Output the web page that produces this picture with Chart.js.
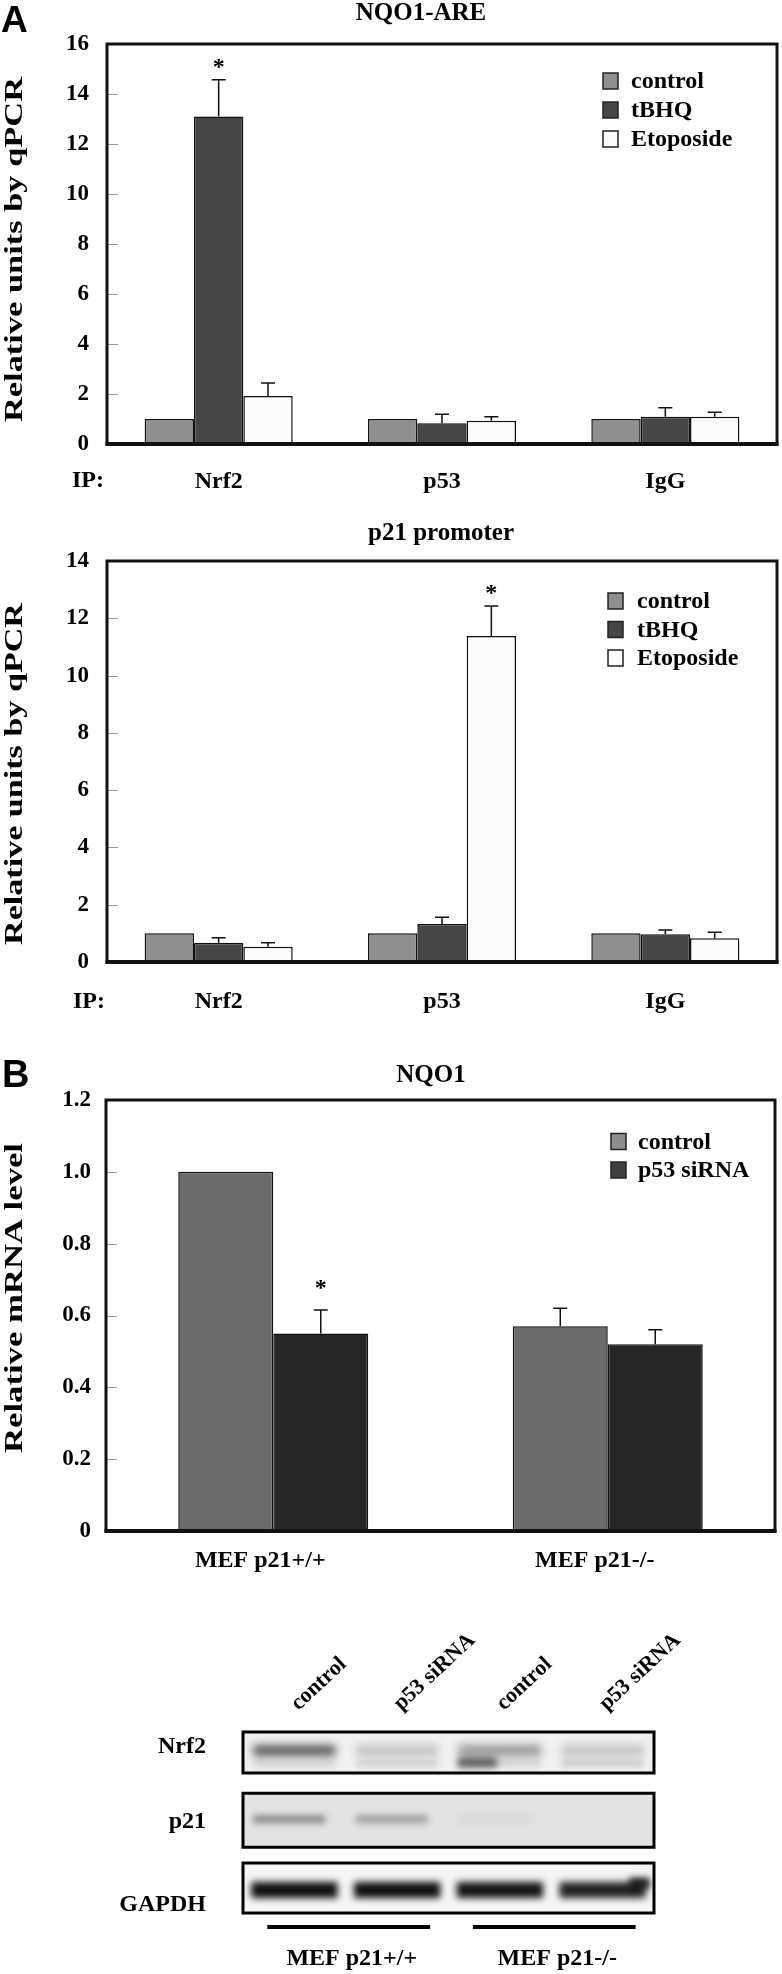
<!DOCTYPE html>
<html>
<head>
<meta charset="utf-8">
<title>NQO1 / p21 ChIP and mRNA</title>
<script src="https://cdn.jsdelivr.net/npm/chart.js@4.4.1/dist/chart.umd.min.js"></script>
<style>
  html, body { margin: 0; padding: 0; background: #fff; }
  #page { position: relative; width: 782px; height: 1974px; overflow: hidden; background: #fff; }
  #page canvas { position: absolute; left: 0; }
</style>
</head>
<body>
<div id="page">
  <canvas id="chartAre" width="782" height="510" style="top:0px"></canvas>
  <canvas id="chartP21" width="782" height="520" style="top:510px"></canvas>
  <canvas id="chartNqo1" width="782" height="560" style="top:1030px"></canvas>
  <canvas id="blot" width="782" height="384" style="top:1590px"></canvas>
</div>
<script>
// ---- data ----

// A, upper: NQO1-ARE
const ipLabels = ['Nrf2', 'p53', 'IgG'];
const treatmentLabels = ['control', 'tBHQ', 'Etoposide'];
const areControl = [1.0, 1.0, 1.0];
const areTbhq = [13.1, 0.83, 1.09];
const areEtoposide = [1.92, 0.93, 1.09];
const areTbhqErr = [1.47, 0.36, 0.36];
const areEtoposideErr = [0.52, 0.16, 0.18];
const areYTicks = [0, 2, 4, 6, 8, 10, 12, 14, 16];

// A, lower: p21 promoter
const p21Control = [1.0, 1.0, 1.0];
const p21Tbhq = [0.67, 1.33, 0.97];
const p21Etoposide = [0.53, 11.38, 0.83];
const p21TbhqErr = [0.18, 0.23, 0.15];
const p21EtoposideErr = [0.14, 1.05, 0.21];
const p21YTicks = [0, 2, 4, 6, 8, 10, 12, 14];

// B: NQO1 mRNA
const cellLabels = ['MEF p21+/+', 'MEF p21-/-'];
const sirnaLabels = ['control', 'p53 siRNA'];
const nqo1Control = [1.0, 0.57];
const nqo1Sirna = [0.55, 0.52];
const nqo1ControlErr = [0, 0.05];
const nqo1SirnaErr = [0.065, 0.04];
const nqo1YTicks = [0, 0.2, 0.4, 0.6, 0.8, 1.0, 1.2];

// B: western blot (band intensity 0..1)
const blotLanes = ['control', 'p53 siRNA', 'control', 'p53 siRNA'];
const blotRows = ['Nrf2', 'p21', 'GAPDH'];
const blotGroups = ['MEF p21+/+', 'MEF p21-/-'];
const nrf2Upper = [0.66, 0.2, 0.4, 0.2];
const nrf2Lower = [0.12, 0.14, 0.12, 0.17];
const nrf2LowerLeft = [0, 0, 0.62, 0];
const p21Band = [0.42, 0.32, 0.05, 0];
const gapdhBand = [1.0, 1.0, 0.98, 0.92];
const gapdhEdge = [0, 0, 0, 0.85];

// ---- drawing ----
const serif = '"Liberation Serif", "Times New Roman", serif';
const sans = '"Liberation Sans", Arial, sans-serif';
Chart.defaults.font.family = serif;
Chart.defaults.font.weight = 'bold';
Chart.defaults.color = '#000';

// per-canvas decoration settings (kept outside Chart options on purpose)
const figureConfigs = {};

function drawText(ctx, t) {
  ctx.save();
  ctx.font = t.font || ('bold 24px ' + serif);
  ctx.fillStyle = '#000';
  if (t.span) {
    // rotated axis title, stretched along its length like the original
    ctx.translate(t.x, t.y);
    ctx.rotate(-Math.PI / 2);
    const w = ctx.measureText(t.text).width;
    ctx.scale(t.span / w, 1);
    ctx.textAlign = 'center';
    ctx.textBaseline = 'middle';
    ctx.fillText(t.text, 0, 0);
  } else {
    ctx.textAlign = t.align || 'left';
    ctx.textBaseline = t.baseline || 'alphabetic';
    ctx.fillText(t.text, t.x, t.y);
  }
  ctx.restore();
}

// error bars, asterisks, frame, inner ticks, legend and labels
const figurePlugin = {
  id: 'figure',
  afterDatasetsDraw(chart) {
    const opts = figureConfigs[chart.canvas.id];
    const ctx = chart.ctx;
    const y = chart.scales.y;
    ctx.save();
    ctx.strokeStyle = '#111';
    ctx.lineWidth = 1.5;
    chart.data.datasets.forEach((ds, i) => {
      if (!ds.errors) return;
      chart.getDatasetMeta(i).data.forEach((bar, j) => {
        const e = ds.errors[j];
        if (!e) return;
        const top = y.getPixelForValue(ds.data[j] + e);
        ctx.beginPath();
        ctx.moveTo(bar.x, bar.y);
        ctx.lineTo(bar.x, top);
        ctx.moveTo(bar.x - 7, top);
        ctx.lineTo(bar.x + 7, top);
        ctx.stroke();
      });
    });
    ctx.restore();
    opts.stars.forEach(s => {
      const ds = chart.data.datasets[s.dataset];
      const bar = chart.getDatasetMeta(s.dataset).data[s.index];
      const err = ds.errors ? ds.errors[s.index] : 0;
      const top = y.getPixelForValue(ds.data[s.index] + err);
      drawText(ctx, { text: '*', x: bar.x, y: top - opts.starGap + 11.6, align: 'center' });
    });
  },
  afterDraw(chart) {
    const opts = figureConfigs[chart.canvas.id];
    const ctx = chart.ctx;
    const a = chart.chartArea;
    const y = chart.scales.y;
    ctx.save();
    // small tick marks inside the frame
    ctx.strokeStyle = '#9a9a9a';
    ctx.lineWidth = 1;
    y.ticks.forEach((t, k) => {
      if (k === 0 || k === y.ticks.length - 1) return;
      const py = Math.round(y.getPixelForValue(t.value)) + 0.5;
      ctx.beginPath();
      ctx.moveTo(a.left, py);
      ctx.lineTo(a.left + 11, py);
      ctx.stroke();
    });
    // frame
    ctx.strokeStyle = '#111';
    ctx.lineWidth = 3;
    ctx.strokeRect(a.left, a.top, a.right - a.left, a.bottom - a.top);
    ctx.lineWidth = 4;
    ctx.beginPath();
    ctx.moveTo(a.left - 1.5, a.bottom);
    ctx.lineTo(a.right + 1.5, a.bottom);
    ctx.stroke();
    // legend
    const lg = opts.legend;
    chart.data.datasets.forEach((ds, i) => {
      const cy = lg.y + i * lg.dy;
      ctx.fillStyle = ds.legendColor || ds.backgroundColor;
      ctx.fillRect(lg.x, cy - 8, 15, 16);
      ctx.strokeStyle = '#222';
      ctx.lineWidth = 1.5;
      ctx.strokeRect(lg.x, cy - 8, 15, 16);
      drawText(ctx, { text: ds.label, x: lg.x + lg.gap, y: cy + 1, baseline: 'middle' });
    });
    ctx.restore();
    opts.texts.forEach(t => drawText(ctx, t));
  }
};

function makeBarChart(id, o) {
  figureConfigs[id] = o.figure;
  return new Chart(document.getElementById(id), {
    type: 'bar',
    data: { labels: o.labels, datasets: o.datasets },
    options: {
      responsive: false,
      animation: false,
      events: [],
      layout: { padding: o.padding },
      datasets: {
        bar: {
          barPercentage: 1,
          categoryPercentage: o.catPct,
          borderWidth: 1.5,
          borderColor: '#111',
          borderSkipped: 'start'
        }
      },
      scales: {
        x: {
          grid: { display: false, drawTicks: false },
          border: { display: false },
          ticks: {
            font: { size: 24, weight: 'bold' },
            color: '#000',
            padding: o.xPad,
            labelOffset: o.labelOffset || 0,
            maxRotation: 0,
            autoSkip: false
          },
          afterFit: s => { s.height = o.xHeight; }
        },
        y: {
          min: 0,
          max: o.yTicks[o.yTicks.length - 1],
          grid: { display: false, drawTicks: false },
          border: { display: false },
          ticks: {
            font: { size: 23, weight: 'bold' },
            color: '#000',
            padding: o.yPad,
            callback: o.fmt
          },
          afterBuildTicks: s => { s.ticks = o.yTicks.map(v => ({ value: v })); },
          afterFit: s => { s.width = o.yWidth; }
        }
      },
      plugins: {
        legend: { display: false },
        tooltip: { enabled: false }
      }
    },
    plugins: [figurePlugin]
  });
}

const colControl = '#8f8f8f';
const colTbhq = '#464646';
const colEto = '#fbfbfb';

makeBarChart('chartAre', {
  labels: ipLabels,
  datasets: [
    { label: treatmentLabels[0], data: areControl, backgroundColor: colControl },
    { label: treatmentLabels[1], data: areTbhq, errors: areTbhqErr, backgroundColor: colTbhq },
    { label: treatmentLabels[2], data: areEtoposide, errors: areEtoposideErr, backgroundColor: colEto }
  ],
  padding: { top: 44, right: 5, left: 0, bottom: 0 },
  catPct: 0.663, yTicks: areYTicks, yWidth: 107, xHeight: 66, xPad: 23, yPad: 18,
  figure: {
    stars: [{ dataset: 1, index: 0 }], starGap: 17,
    legend: { x: 603, y: 81, dy: 29, gap: 28 },
    texts: [
      { text: 'A', x: 1, y: 32, font: 'bold 37px ' + sans },
      { text: 'NQO1-ARE', x: 421, y: 20, align: 'center', font: 'bold 25px ' + serif },
      { text: 'Relative units by qPCR', x: 16, y: 249.5, span: 345, font: 'bold 25px ' + serif },
      { text: 'IP:', x: 72, y: 481, baseline: 'middle' }
    ]
  }
});

makeBarChart('chartP21', {
  labels: ipLabels,
  datasets: [
    { label: treatmentLabels[0], data: p21Control, backgroundColor: colControl },
    { label: treatmentLabels[1], data: p21Tbhq, errors: p21TbhqErr, backgroundColor: colTbhq },
    { label: treatmentLabels[2], data: p21Etoposide, errors: p21EtoposideErr, backgroundColor: colEto }
  ],
  padding: { top: 51, right: 5, left: 0, bottom: 0 },
  catPct: 0.663, yTicks: p21YTicks, yWidth: 107, xHeight: 68, xPad: 25, yPad: 18,
  figure: {
    stars: [{ dataset: 2, index: 1 }], starGap: 18,
    legend: { x: 608, y: 91, dy: 28.5, gap: 29 },
    texts: [
      { text: 'p21 promoter', x: 441, y: 30, align: 'center', font: 'bold 25px ' + serif },
      { text: 'Relative units by qPCR', x: 15.5, y: 264, span: 342, font: 'bold 25px ' + serif },
      { text: 'IP:', x: 73, y: 492, baseline: 'middle' }
    ]
  }
});

makeBarChart('chartNqo1', {
  labels: cellLabels,
  datasets: [
    { label: sirnaLabels[0], data: nqo1Control, errors: nqo1ControlErr, backgroundColor: '#6b6b6b', legendColor: '#8e8e8e' },
    { label: sirnaLabels[1], data: nqo1Sirna, errors: nqo1SirnaErr, backgroundColor: '#262626', legendColor: '#404040' }
  ],
  padding: { top: 70, right: 7, left: 0, bottom: 0 },
  catPct: 0.568, yTicks: nqo1YTicks, yWidth: 106, xHeight: 59, xPad: 15, yPad: 15, labelOffset: -13,
  fmt: v => (v === 0 ? '0' : v.toFixed(1)),
  figure: {
    stars: [{ dataset: 1, index: 0 }], starGap: 27,
    legend: { x: 611, y: 111.5, dy: 28.5, gap: 27 },
    texts: [
      { text: 'B', x: 2, y: 57, font: 'bold 38px ' + sans },
      { text: 'NQO1', x: 431, y: 52, align: 'center', font: 'bold 25px ' + serif },
      { text: 'Relative mRNA level', x: 15.5, y: 268, span: 310, font: 'bold 25px ' + serif }
    ]
  }
});

// western blot: lanes on a category x scale, strips on a linear y scale
figureConfigs.blot = {
  stripHeights: [41, 54, 50],
  stripBg: ['#f1f1f1', '#e3e3e3', '#f5f5f5'],
  bands: [
    [
      { values: nrf2Upper, width: 0.8, dy: -2, th: 11, blur: 4 },
      { values: nrf2Lower, width: 0.8, dy: 11, th: 7, blur: 3 },
      { values: nrf2LowerLeft, width: 0.38, shift: -0.22, dy: 10, th: 10, blur: 3.5 }
    ],
    [
      { values: p21Band, width: 0.7, shift: -0.05, dy: -1, th: 8, blur: 3 }
    ],
    [
      { values: gapdhBand, width: 0.84, dy: 2, th: 16, blur: 3.5 },
      { values: gapdhEdge, width: 0.2, shift: 0.36, dy: -5, th: 11, blur: 3 }
    ]
  ],
  rowLabelX: 206,
  rowLabelY: [163, 238, 321],
  laneDx: 4,
  laneY: 121,
  groupLanes: [[0, 1], [2, 3]],
  groupLineY: 337,
  groupLabelY: 375
};

const blotPlugin = {
  id: 'blot',
  afterDraw(chart) {
    const opts = figureConfigs[chart.canvas.id];
    const ctx = chart.ctx;
    const a = chart.chartArea;
    const xs = chart.scales.x;
    const ys = chart.scales.y;
    const laneW = xs.getPixelForValue(1) - xs.getPixelForValue(0);

    blotRows.forEach((row, r) => {
      const cy = ys.getPixelForValue(r);
      const h = opts.stripHeights[r];
      const top = cy - h / 2;
      ctx.save();
      ctx.beginPath();
      ctx.rect(a.left, top, a.right - a.left, h);
      ctx.clip();
      ctx.fillStyle = opts.stripBg[r];
      ctx.fillRect(a.left, top, a.right - a.left, h);
      opts.bands[r].forEach(b => {
        b.values.forEach((v, l) => {
          if (v <= 0) return;
          const cx = xs.getPixelForValue(l) + (b.shift || 0) * laneW;
          const w = b.width * laneW;
          ctx.filter = 'blur(' + b.blur + 'px)';
          ctx.fillStyle = 'rgba(15,15,15,' + v + ')';
          ctx.fillRect(cx - w / 2, cy + b.dy - b.th / 2, w, b.th);
        });
      });
      ctx.filter = 'none';
      ctx.restore();
      ctx.save();
      ctx.strokeStyle = '#000';
      ctx.lineWidth = 3;
      ctx.strokeRect(a.left, top, a.right - a.left, h);
      ctx.restore();
      drawText(ctx, { text: row, x: opts.rowLabelX, y: opts.rowLabelY[r], align: 'right' });
    });

    // lane labels, rotated
    blotLanes.forEach((lab, l) => {
      ctx.save();
      ctx.translate(xs.getPixelForValue(l) + opts.laneDx, opts.laneY);
      ctx.rotate(-43 * Math.PI / 180);
      ctx.font = 'bold 22px ' + serif;
      ctx.fillStyle = '#000';
      ctx.textAlign = 'left';
      ctx.textBaseline = 'alphabetic';
      ctx.fillText(lab, 0, 0);
      ctx.restore();
    });

    // cell line groups
    opts.groupLanes.forEach((g, k) => {
      const x0 = xs.getPixelForValue(g[0]) - 27;
      const x1 = xs.getPixelForValue(g[1]) + 33;
      ctx.save();
      ctx.strokeStyle = '#000';
      ctx.lineWidth = 4;
      ctx.beginPath();
      ctx.moveTo(x0, opts.groupLineY);
      ctx.lineTo(x1, opts.groupLineY);
      ctx.stroke();
      ctx.restore();
      drawText(ctx, { text: blotGroups[k], x: (x0 + x1) / 2 + 3, y: opts.groupLabelY, align: 'center' });
    });
  }
};

new Chart(document.getElementById('blot'), {
  type: 'bar',
  data: { labels: blotLanes, datasets: [] },
  options: {
    responsive: false,
    animation: false,
    events: [],
    layout: { padding: { left: 243, right: 128, top: 128.6, bottom: 52.1 } },
    scales: {
      x: { type: 'category', display: false, offset: true },
      y: { type: 'linear', display: false, min: -0.5, max: 2.5, reverse: true }
    },
    plugins: {
      legend: { display: false },
      tooltip: { enabled: false }
    }
  },
  plugins: [blotPlugin]
});
</script>
</body>
</html>
